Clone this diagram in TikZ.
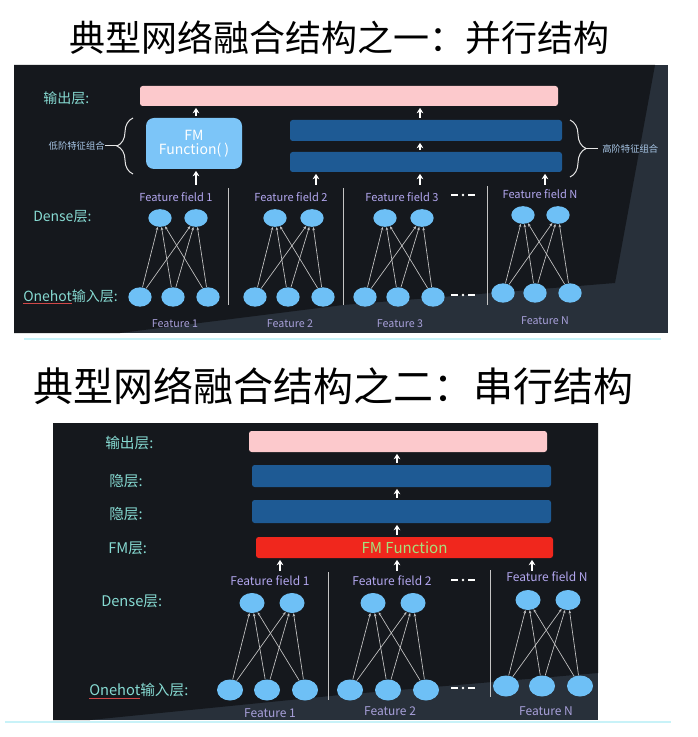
\documentclass[tikz,border=0pt]{standalone}
\usepackage{fontspec}
\setmainfont{Noto Sans CJK SC}
\usetikzlibrary{shapes.geometric,arrows.meta,decorations.pathreplacing}
\definecolor{bgdark}{HTML}{15181D}
\definecolor{bglight}{HTML}{28303A}
\definecolor{labc}{HTML}{86DAD2}
\definecolor{ffc}{HTML}{B2A6EE}
\definecolor{featc}{HTML}{A8A0DA}
\definecolor{nodec}{HTML}{6EC0F6}
\definecolor{fmc}{HTML}{7CC5F8}
\definecolor{barc}{HTML}{1E5A94}
\definecolor{pinkc}{HTML}{FCC9CC}
\definecolor{redc}{HTML}{F0271D}
\definecolor{greenc}{HTML}{A6E07C}
\definecolor{bracetxt}{HTML}{A8C6E6}
\definecolor{linec}{HTML}{C4C4C4}
\definecolor{cyanl}{HTML}{C8F2F8}
\definecolor{ulred}{HTML}{D04848}
\newcommand\myfs[1]{\fontsize{#1}{#1}\selectfont}
\tikzset{
  titlestyle/.style={text=black, inner sep=0, font=\myfs{#1}},
  lbl/.style={text=labc, inner sep=0, anchor=west, font=\myfs{#1}},
  fflbl/.style={text=ffc, inner sep=0, font=\myfs{#1}},
  featlbl/.style={text=featc, inner sep=0, font=\myfs{#1}},
  bar/.style={fill=#1, draw=none, rounded corners=2pt, inner sep=0},
  dense/.style={ellipse, fill=nodec, inner sep=0},
  conn/.style={draw=linec, line width=0.5pt, -{Stealth[length=2.4pt,width=2pt]}},
  uparr/.style={draw=white, line width=1.1pt, -{Stealth[length=4pt,width=5pt]}, shorten <=1.2pt, shorten >=1.2pt},
  divider/.style={draw=linec, line width=0.6pt},
  dashdot/.style={draw=white, line width=1.1pt},
  bracestyle/.style={draw=white!90!black, line width=0.75pt, decorate, decoration={brace, amplitude=12pt}},
  cyanline/.style={draw=cyanl, line width=0.9pt}
}
\begin{document}
\begin{tikzpicture}[x=0.75pt,y=-0.75pt]
\useasboundingbox (0,0) rectangle (697,737);
\fill[white] (0,0) rectangle (697,737);

% ================= Titles =================
\node[titlestyle=27] (t1) at (339,38) {典型网络融合结构之一：并行结构};
\node[titlestyle=30] (t2) at (333,386) {典型网络融合结构之二：串行结构};

% ================= Panel 1 =================
\fill[bglight] (14,65) rectangle (668,333);
\fill[bgdark] (14,65) -- (655,65) -- (615,283) -- (343,305) -- (120,333) -- (14,333) -- cycle;
\draw[cyanline] (24,339) -- (661,339);

\node[lbl=10.5] (p1out) at (43,98) {输出层:};
\node[lbl=10.5] (p1dense) at (33,217) {Dense层:};
\node[lbl=10.5] (p1one) at (23,297) {{\color{ulred}\underline{\textcolor{labc}{Onehot}}}输入层:};

\node[bar=pinkc, minimum width=313.5pt, minimum height=15pt] (pink1) at (349,96) {};
\node[fill=fmc, rounded corners=6pt, minimum width=72pt, minimum height=38.25pt, inner sep=0,
      text=white, align=center, font=\myfs{10.5}] (fm) at (194,143.5) {FM\\Function( )};
\node[bar=barc, minimum width=204pt, minimum height=15.75pt] (bar1) at (426,130.5) {};
\node[bar=barc, minimum width=204pt, minimum height=15pt] (bar2) at (426,162) {};

% braces
\draw[bracestyle] (133,174) -- (133,118);
\coordinate (lbtip) at (117,146);
\coordinate (lbend) at (105,146);
\draw[draw=white!90!black, line width=0.75pt] (lbtip) -- (lbend);
\node[text=bracetxt, inner sep=0, anchor=east, font=\myfs{7}] (lowtxt) at (lbend) {低阶特征组合};
\draw[bracestyle] (570,120) -- (570,177);
\coordinate (rbtip) at (586,148.5);
\coordinate (rbend) at (598,148.5);
\draw[draw=white!90!black, line width=0.75pt] (rbtip) -- (rbend);
\node[text=bracetxt, inner sep=0, anchor=west, font=\myfs{7}] (hightxt) at (602,148.5) {高阶特征组合};

% arrows panel 1
\coordinate (a1) at (196,185);
\coordinate (a2) at (316,185);
\coordinate (a3) at (420,185);
\coordinate (a4) at (545,185);
\draw[uparr, shorten <=0pt] (a1) -- (fm.south -| a1);
\draw[uparr, shorten <=0pt] (a2) -- (bar2.south -| a2);
\draw[uparr, shorten <=0pt] (a3) -- (bar2.south -| a3);
\draw[uparr, shorten <=0pt] (a4) -- (bar2.south -| a4);
\draw[uparr] (bar2.north -| a3) -- (bar1.south -| a3);
\draw[uparr] (bar1.north -| a3) -- (pink1.south -| a3);
\draw[uparr] (fm.north -| a1) -- (pink1.south -| a1);

% feature field labels
\node[fflbl=8.3] (ff1) at (176,197) {Feature field 1};
\node[fflbl=8.3] (ff2) at (291,197) {Feature field 2};
\node[fflbl=8.3] (ff3) at (402,197) {Feature field 3};
\node[fflbl=8.3] (ffN) at (540,194) {Feature field N};

\draw[dashdot] (451,195) -- (458,195);
\fill[white] (463,195) circle (1pt);
\draw[dashdot] (468,195) -- (475,195);
\draw[dashdot] (451,295) -- (458,295);
\fill[white] (463,295) circle (1pt);
\draw[dashdot] (468,295) -- (475,295);

% dividers
\draw[divider] (228,188) -- (228,305);
\draw[divider] (343,188) -- (343,305);
\draw[divider] (487,186) -- (487,305);

% dense nodes
\foreach \n/\x/\y in {d11/160/218, d12/196/218, d21/275/218, d22/312/218,
                      d31/385/218, d32/422/218, dN1/523/215, dN2/558/215}
  \node[dense, minimum width=17.5pt, minimum height=13.25pt] (\n) at (\x,\y) {};
% onehot nodes
\foreach \n/\x/\y in {o11/140/297, o12/173/297, o13/208/297,
                      o21/255/297, o22/288/297, o23/323/297,
                      o31/365/297, o32/398/297, o33/433/297,
                      oN1/503/293, oN2/535/293, oN3/570/293}
  \node[dense, minimum width=17.5pt, minimum height=14.5pt] (\n) at (\x,\y) {};
\foreach \g in {1,2,3,N}
  \foreach \o in {1,2,3}
    \foreach \d in {1,2}
      \draw[conn] (o\g\o) -- (d\g\d);

\node[featlbl=8] (f1) at (175,324) {Feature 1};
\node[featlbl=8] (f2) at (290,324) {Feature 2};
\node[featlbl=8] (f3) at (400,324) {Feature 3};
\node[featlbl=8] (fN) at (545,321) {Feature N};

% ================= Panel 2 =================
\fill[bglight] (53,423) rectangle (598,720);
\fill[bgdark] (53,423) -- (598,423) -- (598,673) -- (340,695) -- (90,720) -- (53,720) -- cycle;
\draw[cyanline] (5,722) -- (671,722);

\node[lbl=11] (q1out) at (105,443) {输出层:};
\node[lbl=11] (q1h1) at (109,481) {隐层:};
\node[lbl=11] (q1h2) at (109,514) {隐层:};
\node[lbl=11] (q1fm) at (108,548) {FM层:};
\node[lbl=11] (q1dense) at (101,601) {Dense层:};
\node[lbl=11] (q1one) at (89,691) {{\color{ulred}\underline{\textcolor{labc}{Onehot}}}输入层:};

\node[bar=pinkc, minimum width=223.5pt, minimum height=15.75pt] (pink2) at (398,441.5) {};
\node[bar=barc, minimum width=224.25pt, minimum height=16.5pt] (blue1) at (401.5,476) {};
\node[bar=barc, minimum width=224.25pt, minimum height=17.25pt] (blue2) at (401.5,511.5) {};
\node[bar=redc, minimum width=222.75pt, minimum height=15.75pt, text=greenc, font=\myfs{11.3}] (red) at (404.5,547.5) {FM Function};

\coordinate (b1) at (280,571);
\coordinate (b2) at (397,571);
\coordinate (b3) at (532,571);
\draw[uparr, shorten <=0pt] (b1) -- (red.south -| b1);
\draw[uparr, shorten <=0pt] (b2) -- (red.south -| b2);
\draw[uparr, shorten <=0pt] (b3) -- (red.south -| b3);
\draw[uparr] (red.north -| b2) -- (blue2.south -| b2);
\draw[uparr] (blue2.north -| b2) -- (blue1.south -| b2);
\draw[uparr] (blue1.north -| b2) -- (pink2.south -| b2);

\node[fflbl=9] (gf1) at (270,581) {Feature field 1};
\node[fflbl=9] (gf2) at (392,581) {Feature field 2};
\node[fflbl=9] (gfN) at (547,577) {Feature field N};

\draw[dashdot] (451,580) -- (458,580);
\fill[white] (463,580) circle (1pt);
\draw[dashdot] (468,580) -- (475,580);
\draw[dashdot] (451,688) -- (458,688);
\fill[white] (463,688) circle (1pt);
\draw[dashdot] (468,688) -- (475,688);

\draw[divider] (328,572) -- (328,700);
\draw[divider] (490,570) -- (490,697);

\foreach \n/\x/\y in {e11/252/603, e12/292/603, e21/373/603, e22/413/603,
                      eN1/528/600, eN2/568/600}
  \node[dense, minimum width=18.75pt, minimum height=15pt] (\n) at (\x,\y) {};
\foreach \n/\x/\y in {h11/230/690, h12/267/690, h13/305/690,
                      h21/350/690, h22/388/690, h23/426/690,
                      hN1/506/686, hN2/542/686, hN3/580/686}
  \node[dense, minimum width=19.5pt, minimum height=15.75pt] (\n) at (\x,\y) {};
\foreach \g in {1,2,N}
  \foreach \o in {1,2,3}
    \foreach \d in {1,2}
      \draw[conn] (h\g\o) -- (e\g\d);

\node[featlbl=9] (g1) at (270,713) {Feature 1};
\node[featlbl=9] (g2) at (390,711) {Feature 2};
\node[featlbl=9] (gN) at (546,711) {Feature N};
\end{tikzpicture}
\end{document}
